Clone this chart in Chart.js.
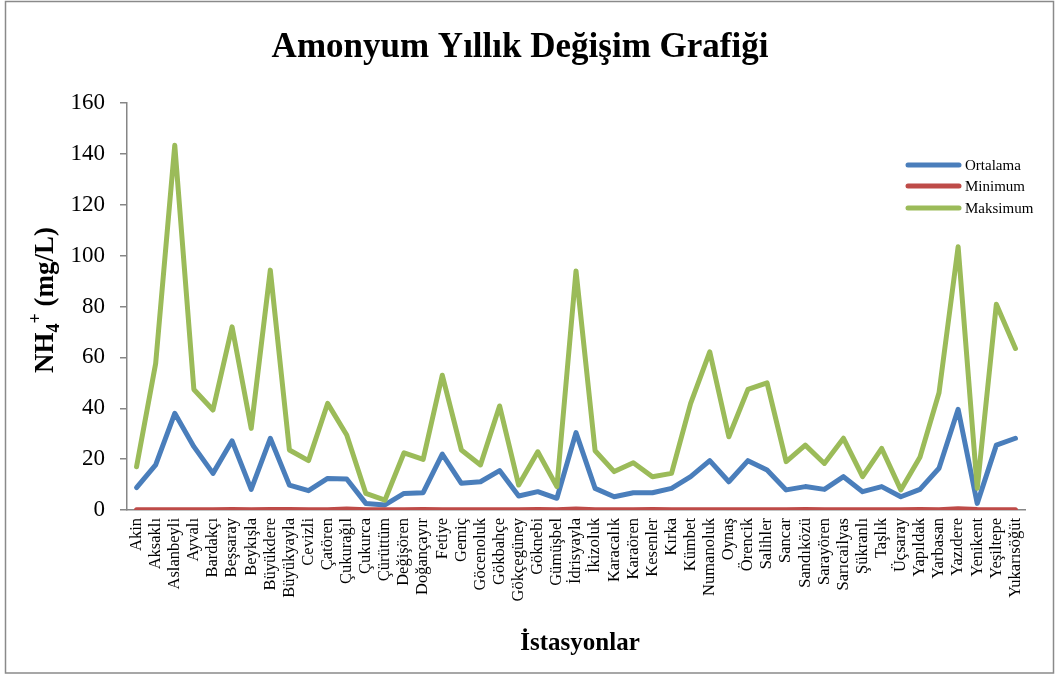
<!DOCTYPE html>
<html>
<head>
<meta charset="utf-8">
<script src="https://cdn.jsdelivr.net/npm/chart.js@4/dist/chart.umd.min.js"></script>
<style>
  html, body { margin: 0; padding: 0; background: #fff; }
  #wrap { width: 1057px; height: 675px; position: relative; }
</style>
</head>
<body>
<div id="wrap"><canvas id="c" width="1057" height="675"></canvas></div>
<script>
// Stations (x-axis categories)
const stations = [
  "Akin", "Aksaklı", "Aslanbeyli", "Ayvalı", "Bardakçı", "Beşsaray", "Beykışla",
  "Büyükdere", "Büyükyayla", "Cevizli", "Çatören", "Çukurağıl", "Çukurca", "Çürüttüm",
  "Değişören", "Doğançayır", "Fetiye", "Gemiç", "Göcenoluk", "Gökbahçe", "Gökçegüney",
  "Göknebi", "Gümüşbel", "İdrisyayla", "İkizoluk", "Karacalık", "Karaören", "Kesenler",
  "Kırka", "Kümbet", "Numanoluk", "Oynaş", "Örencik", "Salihler", "Sancar", "Sandıközü",
  "Sarayören", "Sarıcailyas", "Şükranlı", "Taşlık", "Üçsaray", "Yapıldak", "Yarbasan",
  "Yazıdere", "Yenikent", "Yeşiltepe", "Yukarısöğüt"
];

// NH4+ (mg/L) yearly mean
const ortalama = [
  8.8, 17.7, 38.0, 24.9, 14.4, 27.2, 8.1, 28.2, 9.8, 7.6, 12.4, 12.2, 2.6, 2.0,
  6.5, 6.8, 22.0, 10.5, 11.1, 15.5, 5.5, 7.2, 4.6, 30.4, 8.5, 5.2, 6.8, 6.8,
  8.5, 13.1, 19.4, 11.1, 19.4, 15.7, 7.9, 9.2, 8.1, 13.1, 7.2, 9.2, 5.2, 8.1,
  16.4, 39.6, 2.6, 25.5, 28.2
];

// NH4+ (mg/L) yearly minimum
const minimum = [
  0.1, 0.1, 0.1, 0.1, 0.1, 0.2, 0.1, 0.2, 0.2, 0.1, 0.1, 0.4, 0.1, 0.1,
  0.1, 0.2, 0.1, 0.1, 0.1, 0.1, 0.1, 0.2, 0.1, 0.4, 0.1, 0.1, 0.1, 0.2,
  0.1, 0.1, 0.1, 0.1, 0.1, 0.1, 0.1, 0.2, 0.1, 0.1, 0.1, 0.1, 0.1, 0.2,
  0.1, 0.5, 0.2, 0.1, 0.1
];

// NH4+ (mg/L) yearly maximum
const maksimum = [
  17.0, 57.6, 143.4, 47.4, 39.3, 72.0, 32.1, 94.3, 23.6, 19.4, 41.9, 29.5, 6.5, 3.9,
  22.5, 19.9, 53.0, 23.6, 17.7, 40.9, 9.8, 22.9, 9.2, 94.0, 23.3, 15.1, 18.6, 13.1,
  14.4, 41.9, 62.2, 28.8, 47.4, 50.0, 19.0, 25.5, 18.3, 28.2, 13.1, 24.2, 7.9, 20.7,
  46.1, 103.5, 8.5, 80.9, 63.5
];

const yTicks = [0, 20, 40, 60, 80, 100, 120, 140, 160];

const SERIF = "'Liberation Serif', 'Times New Roman', serif";
const AXIS_GREY = "#868686";

// Title, axis titles, legend and outer frame
const decorations = {
  id: "decorations",
  afterDraw(chart) {
    const ctx = chart.ctx;
    ctx.save();

    // outer frame
    ctx.strokeStyle = "#8a8a8a";
    ctx.lineWidth = 1.5;
    ctx.strokeRect(5.5, 1.5, 1048, 671.5);

    // chart title
    ctx.fillStyle = "#000";
    ctx.textAlign = "center";
    ctx.textBaseline = "alphabetic";
    ctx.font = "bold 35px " + SERIF;
    ctx.fillText("Amonyum Yıllık Değişim Grafiği", 520, 57);

    // x-axis title
    ctx.font = "bold 25px " + SERIF;
    ctx.fillText("İstasyonlar", 580, 650);

    // y-axis title: NH4+ (mg/L) with sub/superscript
    ctx.translate(53, 300);
    ctx.rotate(-Math.PI / 2);
    const big = "bold 27px " + SERIF;
    const small = "bold 18px " + SERIF;
    const parts = [
      { t: "NH", f: big, dy: 0 },
      { t: "4", f: small, dy: 6 },
      { t: "+", f: small, dy: -12 },
      { t: " (mg/L)", f: big, dy: 0 }
    ];
    let total = 0;
    parts.forEach(p => { ctx.font = p.f; p.w = ctx.measureText(p.t).width; total += p.w; });
    let x = -total / 2;
    ctx.textAlign = "left";
    parts.forEach(p => { ctx.font = p.f; ctx.fillText(p.t, x, p.dy); x += p.w; });
    ctx.setTransform(1, 0, 0, 1, 0, 0);

    // legend
    const rows = [165, 186, 208];
    ctx.font = "15px " + SERIF;
    ctx.textAlign = "left";
    ctx.textBaseline = "middle";
    chart.data.datasets.forEach((ds, i) => {
      const y = rows[i];
      ctx.strokeStyle = ds.borderColor;
      ctx.lineWidth = 5;
      ctx.lineCap = "round";
      ctx.beginPath();
      ctx.moveTo(908, y);
      ctx.lineTo(959, y);
      ctx.stroke();
      ctx.fillStyle = "#000";
      ctx.fillText(ds.label, 965, y + 1);
    });

    ctx.restore();
  }
};

const lineStyle = {
  borderWidth: 5,
  pointRadius: 0,
  pointHoverRadius: 0,
  tension: 0,
  fill: false,
  borderCapStyle: "round",
  borderJoinStyle: "round"
};

new Chart(document.getElementById("c"), {
  type: "line",
  data: {
    labels: stations,
    datasets: [
      Object.assign({ label: "Ortalama", data: ortalama, borderColor: "#4A7EBB", order: 2 }, lineStyle),
      Object.assign({ label: "Minimum", data: minimum, borderColor: "#BE4B48", order: 1 }, lineStyle),
      Object.assign({ label: "Maksimum", data: maksimum, borderColor: "#9BBB59", order: 0 }, lineStyle)
    ]
  },
  options: {
    responsive: false,
    animation: false,
    devicePixelRatio: 1,
    layout: { padding: { top: 103, right: 32, left: 0, bottom: 0 } },
    plugins: {
      legend: { display: false },
      title: { display: false },
      tooltip: { enabled: false }
    },
    scales: {
      x: {
        type: "category",
        offset: true,
        grid: { display: false, drawTicks: false },
        border: { display: true, color: AXIS_GREY, width: 1.5 },
        ticks: {
          autoSkip: false,
          minRotation: 90,
          maxRotation: 90,
          padding: 8,
          color: "#000",
          font: { family: SERIF, size: 16.5 }
        },
        afterFit(scale) { scale.height = 165; }
      },
      y: {
        min: 0,
        max: 160,
        afterBuildTicks(scale) { scale.ticks = yTicks.map(v => ({ value: v })); },
        grid: { drawOnChartArea: false, drawTicks: true, tickLength: 7, color: AXIS_GREY, lineWidth: 1.5 },
        border: { display: true, color: AXIS_GREY, width: 1.5 },
        ticks: {
          padding: 15,
          color: "#000",
          font: { family: SERIF, size: 23 }
        },
        afterFit(scale) { scale.width = 127; }
      }
    }
  },
  plugins: [decorations]
});
</script>
</body>
</html>
